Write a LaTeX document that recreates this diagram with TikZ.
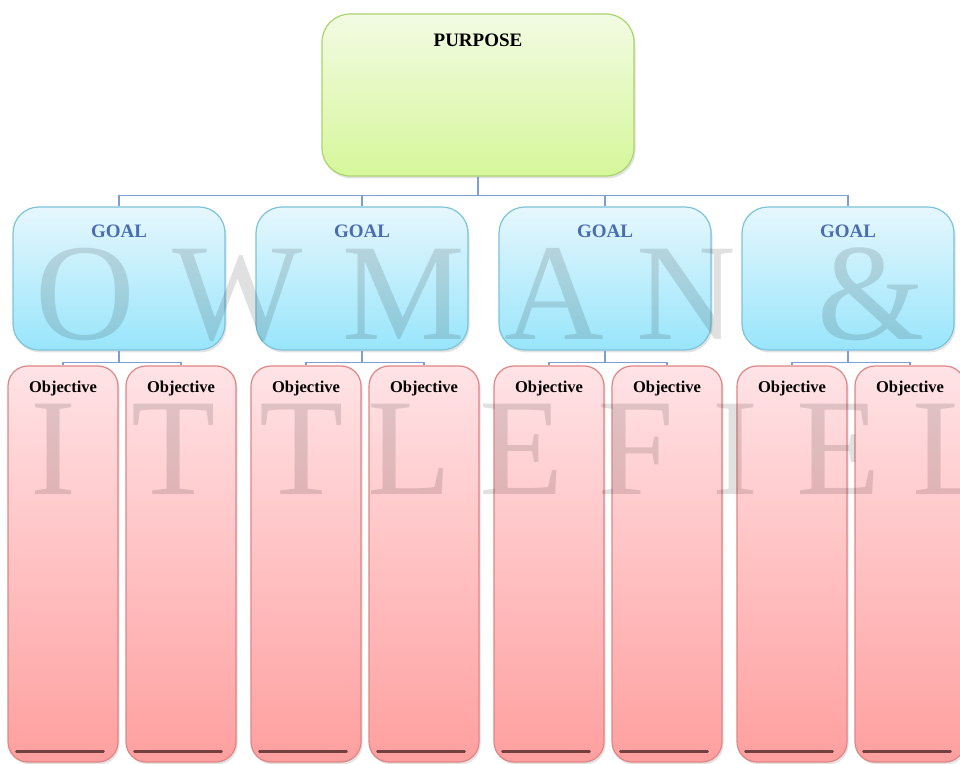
\documentclass[tikz,border=0pt]{standalone}
\usepackage{fontspec}
\setmainfont{Liberation Serif}
\usetikzlibrary{shadows}

\definecolor{purposetop}{HTML}{F2FBE3}
\definecolor{purposebot}{HTML}{D6F79A}
\definecolor{purposeline}{HTML}{A9D46C}
\definecolor{goaltop}{HTML}{E6F7FD}
\definecolor{goalbot}{HTML}{98E5FB}
\definecolor{goalline}{HTML}{7CC3DB}
\definecolor{goalblue}{HTML}{4A6CB0}
\definecolor{objtop}{HTML}{FFE3E6}
\definecolor{objbot}{HTML}{FF9F9F}
\definecolor{objline}{HTML}{E08585}
\definecolor{linkblue}{HTML}{7C9FD3}

\tikzset{
	box/.style={draw, line width=1.2pt, drop shadow={opacity=0.22,shadow xshift=1.5pt,shadow yshift=-2.5pt}},
	purposebox/.style={box, draw=purposeline, top color=purposetop, bottom color=purposebot, minimum width=312pt, minimum height=162pt, rounded corners=28pt},
	goalbox/.style={box, draw=goalline, top color=goaltop, bottom color=goalbot, minimum width=212pt, minimum height=143pt, rounded corners=26pt},
	objbox/.style={box, draw=objline, top color=objtop, bottom color=objbot, minimum width=110pt, minimum height=396pt, rounded corners=20pt},
	purposetxt/.style={anchor=center, yshift=-27pt, font=\fontsize{19}{21}\selectfont\bfseries},
	goaltxt/.style={anchor=center, yshift=-25pt, text=goalblue, font=\fontsize{19}{21}\selectfont\bfseries},
	objtxt/.style={anchor=center, yshift=-23pt, font=\fontsize{16.5}{18}\selectfont\bfseries},
	baseline/.style={draw=black!60!red!50!gray, line width=2.5pt, line cap=round},
	link/.style={draw=linkblue, line width=1.4pt},
	wmtext/.style={anchor=base, text=black, text opacity=0.12, font=\fontsize{138}{138}\selectfont}
}

\begin{document}
\begin{tikzpicture}[x=1pt,y=1pt]
\useasboundingbox (0,0) rectangle (960,763);

\node[purposebox, label={[purposetxt]north:PURPOSE}] (purpose) at (478,668) {};

\foreach \i in {1,...,4}{
	\pgfmathsetmacro{\gx}{119+243*(\i-1)}
	\node[goalbox, label={[goaltxt]north:GOAL}] (goal\i) at (\gx,484.5) {};
	\node[objbox, label={[objtxt]north:Objective}] (objA\i) at (\gx-56,199) {};
	\node[objbox, label={[objtxt]north:Objective}] (objB\i) at (\gx+62,199) {};
	\draw[baseline] ([xshift=9pt,yshift=11pt]objA\i.south west) -- ([xshift=-15pt,yshift=11pt]objA\i.south east);
	\draw[baseline] ([xshift=9pt,yshift=11pt]objB\i.south west) -- ([xshift=-15pt,yshift=11pt]objB\i.south east);
	\draw[link] (purpose.south) -- ++(0,-19) -| (goal\i.north);
	\draw[link] (goal\i.south) -- ++(0,-12) -| (objA\i.north);
	\draw[link] (goal\i.south) -- ++(0,-12) -| (objB\i.north);
}

\foreach \ch/\wx [count=\k] in {O/85,W/238,M/404,A/554,N/686,\&/871}
	\node[wmtext] (wmA\k) at (\wx,423) {\ch};
\foreach \ch/\wx [count=\k] in {I/53,T/174,T/302,L/410,E/522,F/636,I/735,E/839,L/955}
	\node[wmtext] (wmB\k) at (\wx,268) {\ch};

\end{tikzpicture}
\end{document}
